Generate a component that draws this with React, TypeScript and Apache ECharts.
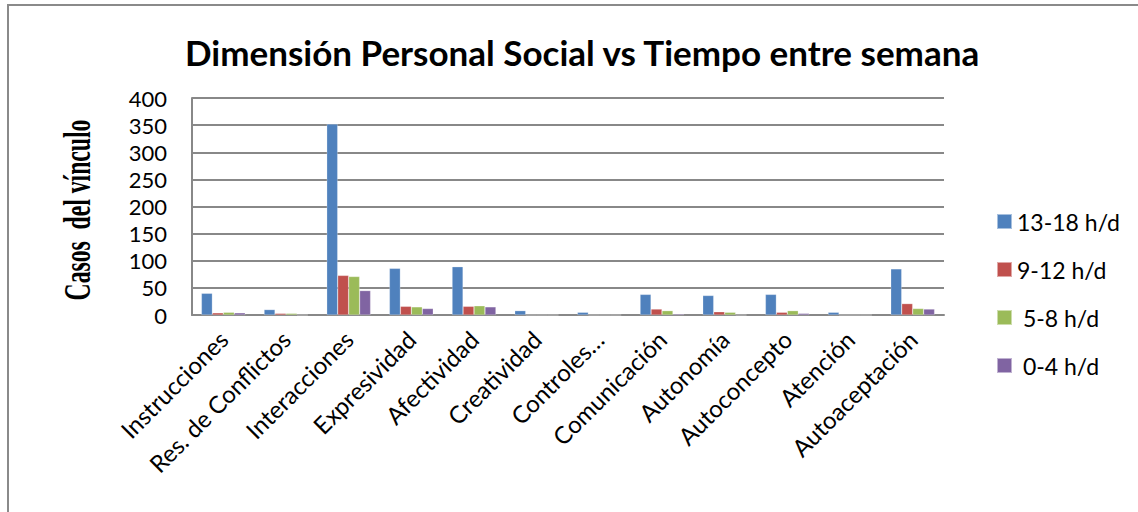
import React, { useEffect, useRef } from "react";
import * as echarts from "echarts";

const categories = [
  "Instrucciones",
  "Res. de Conflictos",
  "Interacciones",
  "Expresividad",
  "Afectividad",
  "Creatividad",
  "Controles…",
  "Comunicación",
  "Autonomía",
  "Autoconcepto",
  "Atención",
  "Autoaceptación",
];

const seriesNames = ["13-18 h/d", "9-12 h/d", " 5-8 h/d", " 0-4 h/d"];
const h13_18 = [40, 10, 352, 86, 89, 8, 5, 38, 36, 38, 5, 85];
const h9_12 = [4, 3, 73, 16, 16, 0, 0, 11, 6, 5, 0, 21];
const h5_8 = [5, 3, 71, 15, 17, 0, 0, 8, 5, 8, 0, 12];
const h0_4 = [4, 0, 45, 12, 15, 0, 0, 2, 0, 3, 0, 11];
const colors = ["#4F81BD", "#C0504D", "#9BBB59", "#8064A2"];

const title = "Dimensión Personal Social vs Tiempo entre semana";
const yAxisTitle = "Casos  del vínculo";

export default function App() {
  const ref = useRef<HTMLDivElement>(null);
  useEffect(() => {
    if (!ref.current) return;
    const chart = echarts.init(ref.current, null, { renderer: "svg" });
    const values = [h13_18, h9_12, h5_8, h0_4];
    const font = "Lato";
    chart.setOption({
      animation: false,
      backgroundColor: "#ffffff",
      title: {
        text: title,
        left: 180,
        top: 29,
        textStyle: { fontFamily: font, fontWeight: "bold", fontSize: 35, color: "#000" },
      },
      grid: { left: 192, right: 194, top: 98, bottom: 197 },
      legend: {
        orient: "vertical",
        left: 991,
        top: 205,
        itemWidth: 15,
        itemHeight: 15,
        itemGap: 25,
        icon: "rect",
        textStyle: { fontFamily: font, fontSize: 23, color: "#000" },
        data: seriesNames,
      },
      xAxis: {
        type: "category",
        data: categories,
        axisLine: { lineStyle: { color: "#888", width: 2 } },
        axisTick: { show: false },
        axisLabel: {
          rotate: 45,
          margin: 20,
          interval: 0,
          fontFamily: font,
          fontSize: 24,
          color: "#000",
        },
      },
      yAxis: {
        type: "value",
        min: 0,
        max: 400,
        interval: 50,
        axisLine: { show: true, lineStyle: { color: "#888", width: 2 } },
        axisTick: { show: false },
        splitLine: { lineStyle: { color: "#888", width: 2 } },
        axisLabel: { margin: 25, fontFamily: font, fontSize: 22, color: "#000" },
      },
      series: seriesNames.map((name, i) => ({
        name,
        type: "bar",
        data: values[i],
        barGap: "0%",
        barCategoryGap: "30%",
        itemStyle: { color: colors[i], borderColor: "rgba(255,255,255,0.5)", borderWidth: 0.5 },
      })),
      graphic: [
        {
          type: "rect",
          shape: { x: 8, y: 5, width: 1200, height: 600 },
          style: { fill: "none", stroke: "#8a8a8a", lineWidth: 2 },
          silent: true,
        },
        {
          type: "text",
          x: 77,
          y: 210,
          rotation: Math.PI / 2,
          scaleX: 0.64,
          style: {
            text: yAxisTitle,
            fontFamily: "Liberation Serif",
            fontWeight: "bold",
            fontSize: 37,
            fill: "#000",
            align: "center",
            verticalAlign: "middle",
          },
        },
      ],
    });
    return () => chart.dispose();
  }, []);
  return (
    <div
      ref={ref}
      style={{ position: "fixed", left: 0, top: 0, width: 1138, height: 512 }}
    />
  );
}
